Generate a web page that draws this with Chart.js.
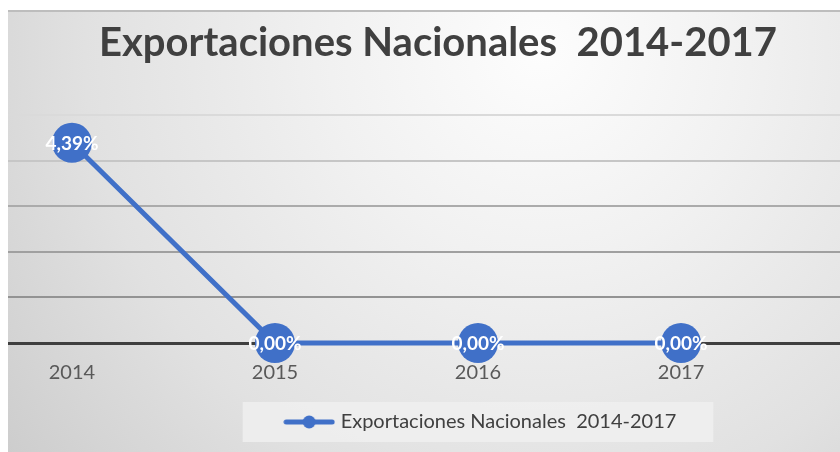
<!DOCTYPE html>
<html>
<head>
<meta charset="utf-8">
<script src="https://cdn.jsdelivr.net/npm/chart.js@4/dist/chart.umd.min.js"></script>
<style>
  html, body { margin: 0; padding: 0; background: #ffffff; }
  #wrap { width: 840px; height: 452px; }
</style>
</head>
<body>
<div id="wrap"><canvas id="c" width="840" height="452"></canvas></div>
<script>
// Series data
const years = ['2014', '2015', '2016', '2017'];
const exportShare = [4.39, 0.00, 0.00, 0.00];
const yTicks = [0, 1, 2, 3, 4, 5];
const seriesName = 'Exportaciones Nacionales  2014-2017';
const chartTitle = 'Exportaciones Nacionales  2014-2017';

const BLUE = '#4070c8';
const FONT = 'Lato, "Open Sans", sans-serif';

// Legend sample: a thick line with a dot in the middle
const legendSample = document.createElement('canvas');
legendSample.width = 52; legendSample.height = 14;
(function () {
  const g = legendSample.getContext('2d');
  g.strokeStyle = BLUE; g.lineWidth = 5; g.lineCap = 'round';
  g.beginPath(); g.moveTo(3, 7); g.lineTo(49, 7); g.stroke();
  g.fillStyle = BLUE;
  g.beginPath(); g.arc(26, 7, 6.5, 0, Math.PI * 2); g.fill();
})();

const pct = v => v.toFixed(2).replace('.', ',') + '%';

// The slide is wider than the visible frame, so title and legend sit right of centre
const offsetBlocks = {
  id: 'offsetBlocks',
  afterLayout(chart) {
    if (chart.titleBlock) chart.titleBlock.left += 28;
    if (chart.legend) {
      chart.legend.left += 116;
      chart.legend.top -= 4;
    }
  }
};

// Slide-like backdrop: white margin, thin rule, soft radial gray fill,
// plus the lighter panel behind the legend
const backdrop = {
  id: 'backdrop',
  beforeDraw(chart) {
    const ctx = chart.ctx;
    ctx.save();
    ctx.fillStyle = '#ffffff';
    ctx.fillRect(0, 0, chart.width, chart.height);
    const g = ctx.createRadialGradient(540, 50, 0, 540, 50, 700);
    g.addColorStop(0, '#fdfdfd');
    g.addColorStop(0.3, '#f1f1f1');
    g.addColorStop(0.65, '#e1e1e1');
    g.addColorStop(1, '#cacaca');
    ctx.fillStyle = g;
    ctx.fillRect(8, 11, chart.width - 8, chart.height - 11);
    ctx.fillStyle = '#bdbdbd';
    ctx.fillRect(8, 10, chart.width - 8, 2);

    const lg = chart.legend;
    if (lg && lg.legendHitBoxes && lg.legendHitBoxes.length) {
      const hb = lg.legendHitBoxes[0];
      const pad = lg.options.labels.padding;
      const x0 = (lg.left + lg.right - lg.lineWidths[0] + pad) / 2;
      const cy = lg.top + pad + hb.height / 2;
      ctx.fillStyle = 'rgba(240,240,240,0.8)';
      ctx.fillRect(x0 - 45, cy - 20, hb.width + 82, 40);
    }
    ctx.restore();
  }
};

// White value labels centred on each marker
const valueLabels = {
  id: 'valueLabels',
  afterDatasetsDraw(chart) {
    const ctx = chart.ctx;
    const meta = chart.getDatasetMeta(0);
    ctx.save();
    ctx.font = 'bold 19px ' + FONT;
    ctx.fillStyle = '#ffffff';
    ctx.textAlign = 'center';
    ctx.textBaseline = 'middle';
    meta.data.forEach((pt, i) => {
      ctx.fillText(pct(exportShare[i]), pt.x, pt.y + 1);
    });
    ctx.restore();
  }
};

const gridColors = ['#3f3f3f', '#939393', '#a0a0a0', '#ababab', '#c6c6c6', '#dadada'];

new Chart(document.getElementById('c'), {
  type: 'line',
  data: {
    datasets: [{
      label: seriesName,
      data: exportShare.map((v, i) => ({ x: i, y: v })),
      borderColor: BLUE,
      backgroundColor: BLUE,
      borderWidth: 5,
      pointRadius: 20,
      pointHoverRadius: 20,
      pointBorderWidth: 0,
      pointBackgroundColor: BLUE,
      tension: 0,
      clip: false
    }]
  },
  options: {
    responsive: false,
    animation: false,
    events: [],
    layout: { autoPadding: false, padding: { left: 8, right: 0, top: 0, bottom: 6 } },
    scales: {
      x: {
        type: 'linear',
        min: -0.315,
        max: 3.783,
        afterBuildTicks: s => { s.ticks = years.map((_, i) => ({ value: i })); },
        afterFit: s => { s.paddingLeft = 0; s.paddingRight = 0; },
        grid: { display: false, drawTicks: false },
        border: { display: false },
        ticks: {
          padding: 18,
          color: '#595959',
          font: { family: FONT, size: 20 },
          callback: v => years[v]
        }
      },
      y: {
        min: 0,
        max: 5,
        afterBuildTicks: s => { s.ticks = yTicks.map(v => ({ value: v })); },
        grid: {
          drawTicks: false,
          color: c => gridColors[c.index] || '#dadada',
          lineWidth: c => (c.index === 0 ? 3 : 2)
        },
        border: { display: false },
        ticks: { display: false }
      }
    },
    plugins: {
      title: {
        display: true,
        text: chartTitle,
        color: '#404040',
        font: { family: FONT, size: 40, weight: 'bold' },
        padding: { top: 19, bottom: 48 }
      },
      legend: {
        display: true,
        position: 'bottom',
        labels: {
          usePointStyle: true,
          pointStyleWidth: 43,
          color: '#404040',
          font: { family: FONT, size: 20 },
          padding: 13,
          generateLabels: () => [{
            text: seriesName,
            pointStyle: legendSample,
            fillStyle: BLUE,
            strokeStyle: BLUE,
            lineWidth: 0,
            datasetIndex: 0,
            fontColor: '#404040'
          }]
        }
      },
      tooltip: { enabled: false }
    }
  },
  plugins: [offsetBlocks, backdrop, valueLabels]
});
</script>
</body>
</html>
